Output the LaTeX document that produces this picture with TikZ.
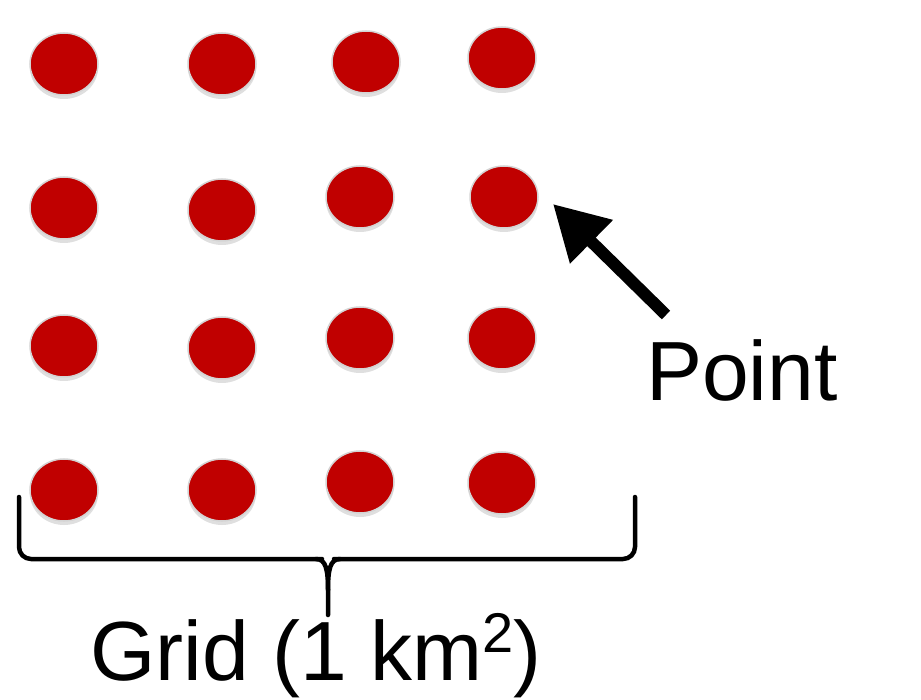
\documentclass[tikz,border=0pt]{standalone}
\usepackage{fontspec}
\setmainfont{Liberation Sans}
\usetikzlibrary{shapes.geometric,shadows,arrows.meta}
\definecolor{dotred}{HTML}{C00000}
\definecolor{rimgray}{HTML}{D4D4D4}
\tikzset{
  x=1pt,y=-1pt,
  dotnode/.style={ellipse,minimum width=68pt,minimum height=62pt,inner sep=0pt,
    fill=dotred,draw=rimgray,line width=1.5pt,
    drop shadow={opacity=0.25,shadow xshift=0pt,shadow yshift=-4pt}},
  lbl/.style={inner sep=0pt,font=\fontsize{84}{100}\selectfont,anchor=base west},
  bracestyle/.style={line width=4.5pt,line join=round,line cap=round,rounded corners=12pt},
  arrowstyle/.style={line width=12pt,-{Triangle[length=54pt,width=58pt]}}
}
\begin{document}
\begin{tikzpicture}
\useasboundingbox (0,0) rectangle (921,700);
% row 1
\node[dotnode] (d11) at (64,64) {};
\node[dotnode] (d12) at (222,64) {};
\node[dotnode] (d13) at (366,62) {};
\node[dotnode] (d14) at (502,58) {};
% row 2
\node[dotnode] (d21) at (64,208) {};
\node[dotnode] (d22) at (222,210) {};
\node[dotnode] (d23) at (360,197) {};
\node[dotnode] (d24) at (504,197) {};
% row 3
\node[dotnode] (d31) at (64,346) {};
\node[dotnode] (d32) at (222,348) {};
\node[dotnode] (d33) at (360,338) {};
\node[dotnode] (d34) at (502,338) {};
% row 4
\node[dotnode] (d41) at (64,490) {};
\node[dotnode] (d42) at (222,490) {};
\node[dotnode] (d43) at (360,482) {};
\node[dotnode] (d44) at (502,483) {};
% labels
\node[lbl] (point) at (646,400) {Point};
\node[lbl] (grid) at (90,680) {Grid (1 km\raisebox{28pt}{\fontsize{56}{56}\selectfont 2})};
% arrow
\coordinate (tail) at (666,315);
\coordinate (tip) at (553,204);
\draw[arrowstyle] (tail) -- (tip);
% brace
\coordinate (bl) at (19,497);
\coordinate (br) at (635,497);
\coordinate (bm) at (328,615);
\draw[bracestyle] (bl) -- (19,559) -- (322,559);
\draw[line width=4.5pt,line cap=round] (316,559) .. controls (326,559) and (328,570) .. (328,590) -- (bm);
\draw[line width=4.5pt,line cap=round] (340,559) .. controls (330,559) and (328,570) .. (328,590);
\draw[bracestyle] (334,559) -- (635,559) -- (br);
\end{tikzpicture}
\end{document}
